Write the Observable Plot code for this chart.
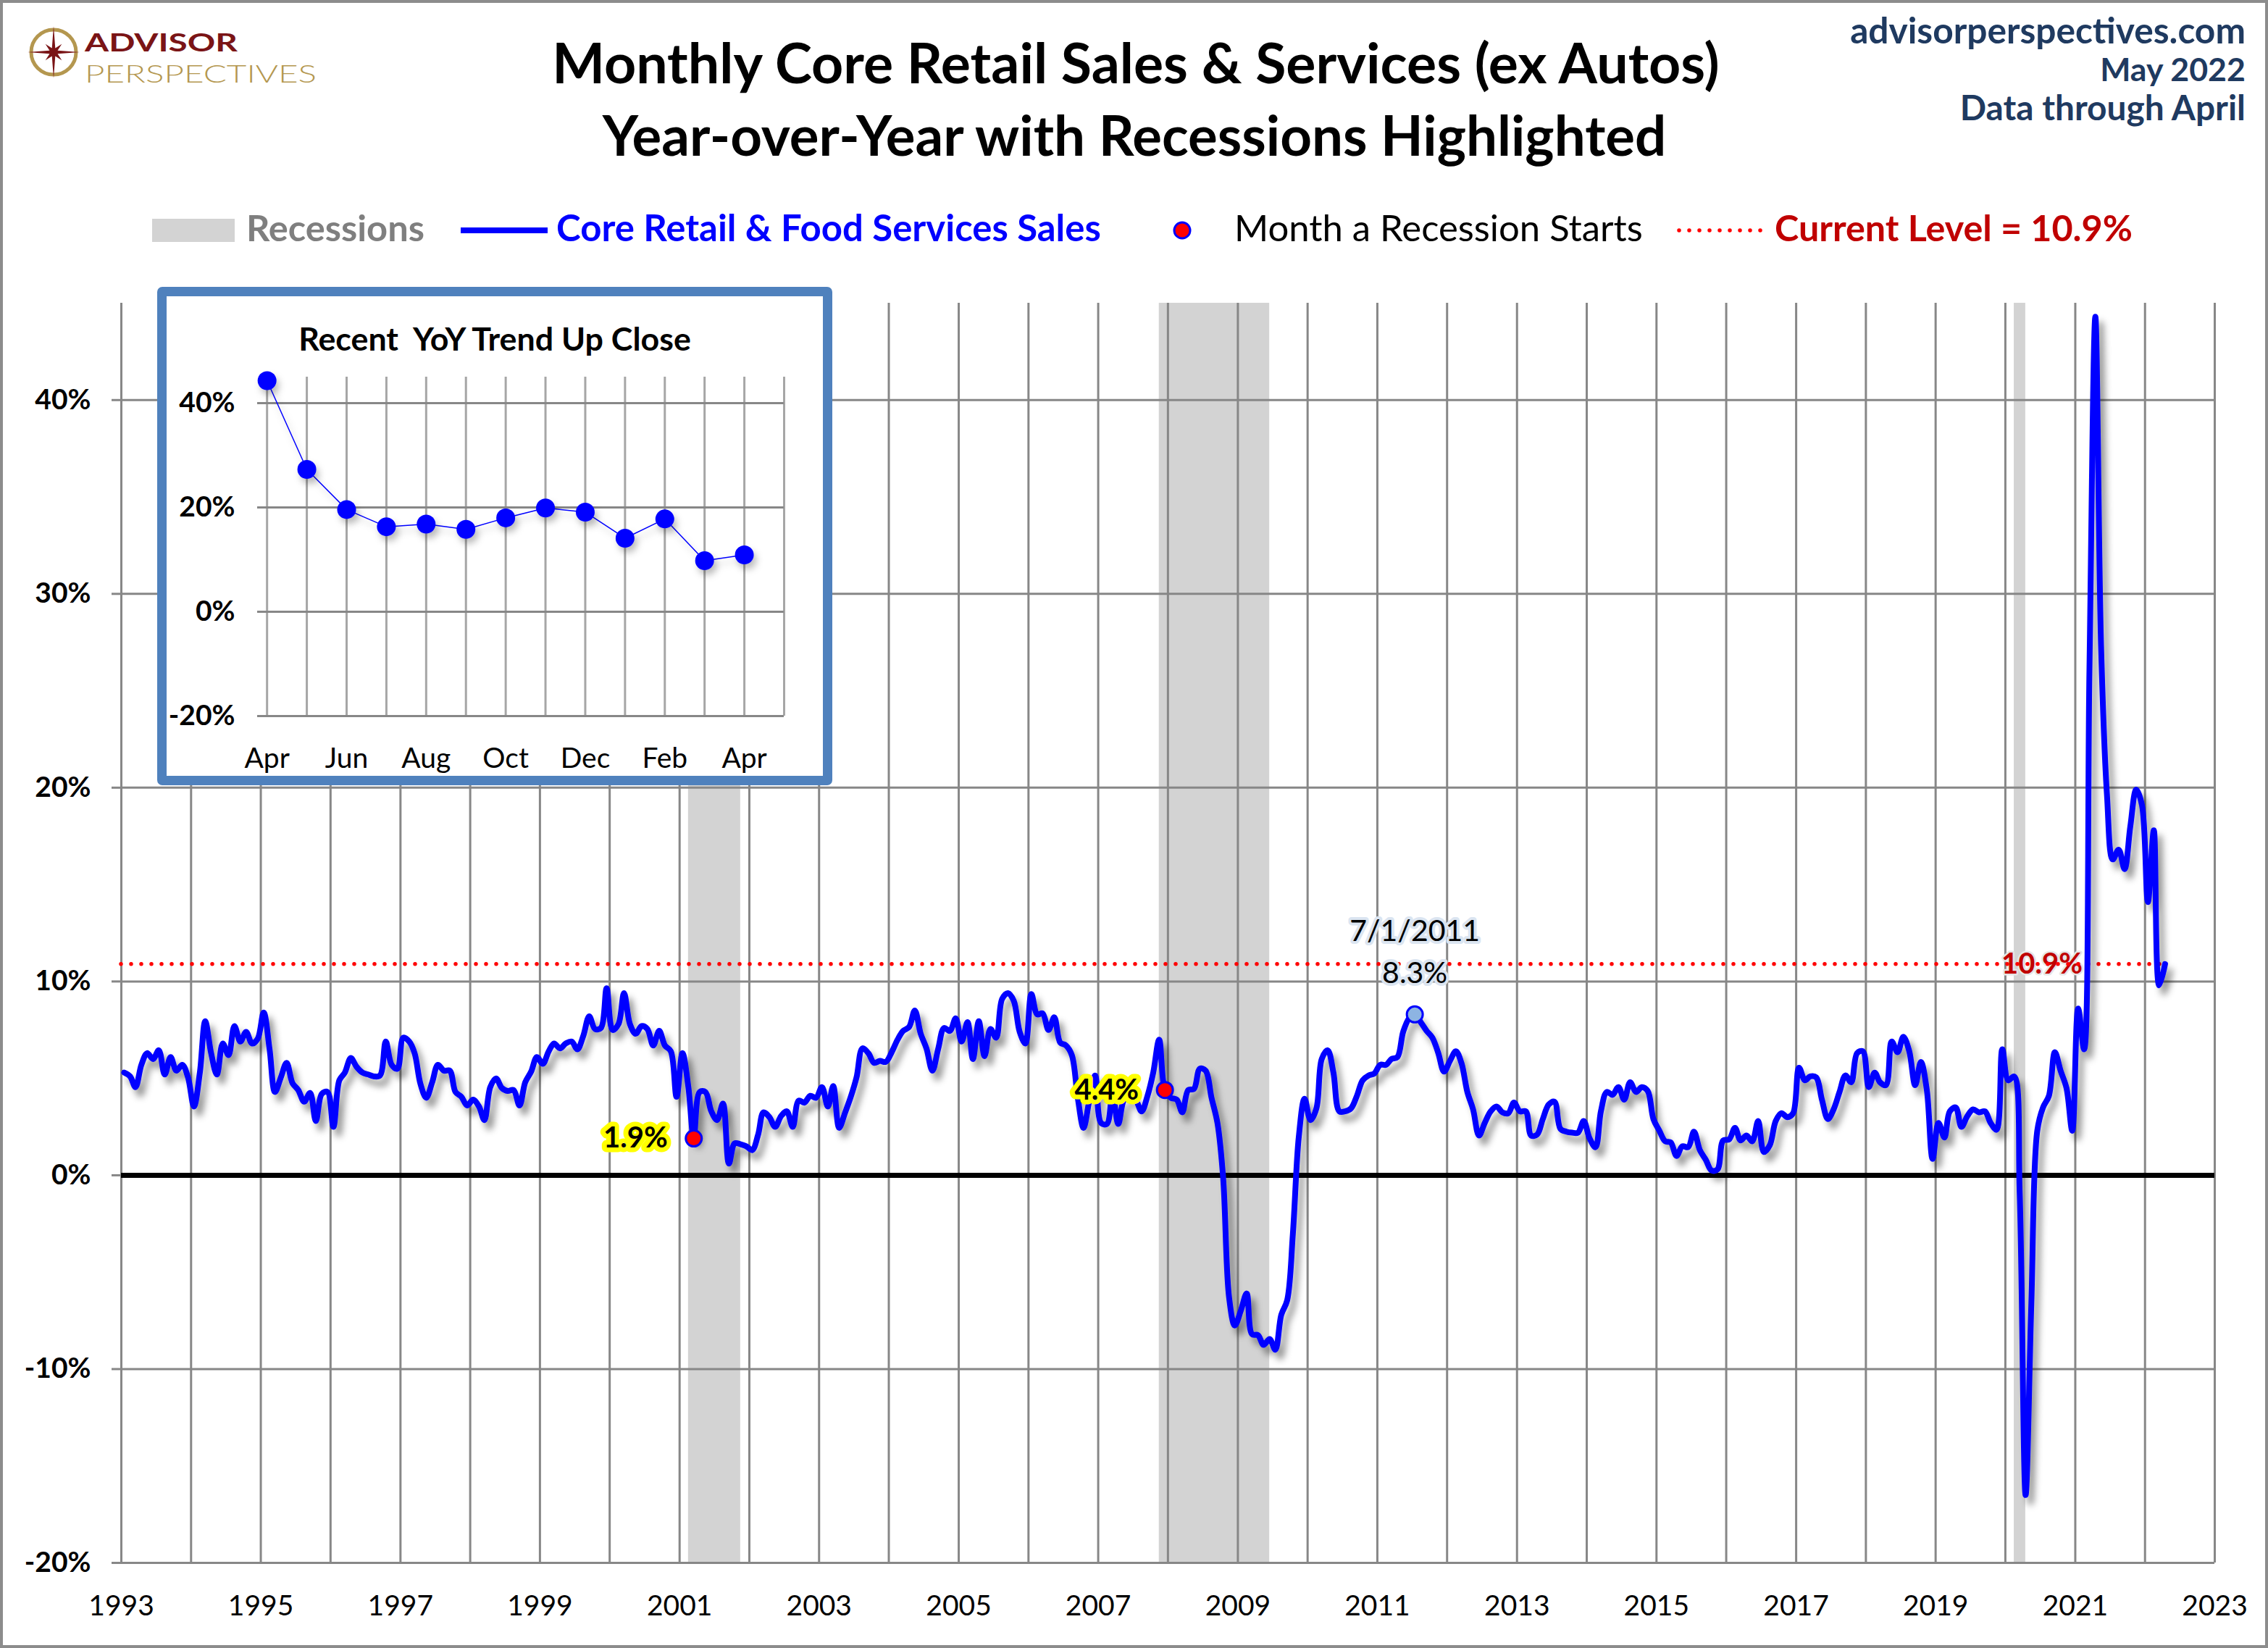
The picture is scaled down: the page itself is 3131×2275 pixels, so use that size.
<!DOCTYPE html>
<html><head><meta charset="utf-8">
<script src="https://cdn.jsdelivr.net/npm/d3@7"></script>
<script src="https://cdn.jsdelivr.net/npm/@observablehq/plot@0.6"></script>
<style>
html,body{margin:0;padding:0;background:#fff;}
#page{position:relative;width:3131px;height:2275px;overflow:hidden;background:#fff;}
.abs{position:absolute;}
</style></head><body><div id="page"></div>
<script>
// ---------------- DATA ----------------
const firstYear = 1993; // series starts January 1993, monthly
const yoy = [
  5.3, 5.1, 4.55, 5.7, 6.3, 6.0, 6.45, 5.2, 6.1, 5.4, 5.7, 5.05,
  3.55, 5.3, 7.95, 6.3, 5.2, 6.8, 6.2, 7.7, 6.9, 7.4, 6.8, 7.05,
  8.4, 6.5, 4.3, 5.05, 5.8, 4.75, 4.4, 3.8, 4.25, 2.8, 4.2, 4.3,
  2.5, 4.9, 5.3, 6.05, 5.6, 5.3, 5.2, 5.1, 5.15, 6.9, 5.7, 5.5,
  7.1, 6.9, 6.3, 4.7, 4.0, 4.8, 5.7, 5.4, 5.4, 4.3, 4.05, 3.6,
  3.9, 3.55, 2.85, 4.55, 5.0, 4.5, 4.35, 4.4, 3.6, 4.8, 5.35, 6.1,
  5.75, 6.4, 6.8, 6.55, 6.8, 6.9, 6.5, 7.2, 8.2, 7.55, 7.6, 9.65,
  7.5, 7.8, 9.4, 7.8, 7.3, 7.7, 7.55, 6.7, 7.45, 6.7, 6.4, 4.05,
  6.3, 4.55, 1.9, 4.3, 4.3, 3.3, 2.85, 3.7, 0.6, 1.65, 1.6, 1.5,
  1.3, 2.1, 3.25, 3.0, 2.5, 3.05, 3.3, 2.5, 3.85, 3.75, 4.1, 4.0,
  4.55, 3.55, 4.6, 2.45, 3.2, 4.05, 5.05, 6.55, 6.3, 5.8, 5.9, 5.85,
  6.35, 7.0, 7.45, 7.65, 8.5, 7.3, 6.55, 5.4, 6.55, 7.6, 7.45, 8.1,
  6.9, 7.9, 6.0, 7.95, 6.15, 7.55, 7.1, 9.1, 9.4, 9.0, 7.4, 6.8,
  9.35, 8.3, 8.35, 7.5, 8.15, 6.85, 6.7, 6.2, 4.0, 2.45, 3.9, 5.15,
  2.7, 2.65, 4.2, 2.65, 3.9, 4.1, 3.9, 3.3, 4.1, 5.3, 7.0, 4.4,
  4.0, 3.9, 3.25, 4.4, 4.45, 5.5, 5.4, 4.0, 2.7, -0.15, -6.3, -7.75,
  -7.0, -6.1, -8.2, -8.25, -8.75, -8.45, -9.0, -7.2, -6.45, -3.0, 2.0, 3.95,
  2.85, 3.45, 6.0, 6.45, 5.3, 3.3, 3.3, 3.45, 4.1, 4.9, 5.15, 5.25,
  5.7, 5.7, 6.0, 6.1, 7.4, 8.1, 8.3, 7.9, 7.45, 7.1, 6.3, 5.35,
  5.9, 6.4, 5.8, 4.3, 3.4, 2.05, 2.7, 3.3, 3.55, 3.25, 3.2, 3.75,
  3.3, 3.3, 2.05, 2.1, 2.9, 3.65, 3.8, 2.4, 2.25, 2.2, 2.2, 2.8,
  1.9, 1.45, 3.3, 4.3, 4.15, 4.55, 3.9, 4.8, 4.3, 4.55, 4.35, 2.9,
  2.3, 1.75, 1.7, 1.0, 1.5, 1.45, 2.25, 1.3, 0.8, 0.25, 0.3, 1.8,
  1.85, 2.45, 1.8, 2.05, 1.75, 2.8, 1.2, 1.55, 2.8, 3.2, 3.0, 3.2,
  5.55, 4.9, 5.1, 5.05, 3.9, 2.9, 3.4, 4.3, 5.15, 4.8, 6.3, 6.4,
  4.55, 5.3, 4.8, 4.65, 6.9, 6.35, 7.15, 6.4, 4.65, 5.85, 4.4, 0.85,
  2.7, 1.95, 3.3, 3.5, 2.5, 3.05, 3.4, 3.25, 3.3, 2.7, 2.35, 6.5,
  4.9, 5.1, -0.9, -16.5, -6.6, 2.3, 3.5, 4.1, 6.35, 5.4, 4.5, 2.3,
  8.6, 6.5, 26.0, 44.3, 27.3, 19.6, 16.3, 16.8, 15.8, 18.0, 19.9, 19.1,
  14.1, 17.8, 9.8, 10.9
];
const recessionBandStart = ["2001-02", "2007-11", "2020-02"];
const recessionBandEnd   = ["2001-11", "2009-06", "2020-04"];
const recessionStartMonths = ["2001-03", "2007-12"];
const highlightMonth = "2011-07";
const currentLevel = 10.9;
const yearGrid = d3.range(1993, 2024);
const yearLabels = d3.range(1993, 2024, 2);
const yTicks = [-20, -10, 0, 10, 20, 30, 40];
const insetCount = 13;
const insetYTicks = [-20, 0, 20, 40];
const titleLines = ["Monthly Core Retail Sales & Services (ex Autos)", "Year-over-Year with Recessions Highlighted"];
const sourceLines = ["advisorperspectives.com", "May 2022", "Data through April"];
const legendLabels = ["Recessions", "Core Retail & Food Services Sales", "Month a Recession Starts", "Current Level = 10.9%"];
const insetTitle = "Recent  YoY Trend Up Close";
const logoWords = ["ADVISOR", "PERSPECTIVES"];

// ---------------- HELPERS ----------------
const W = 3131, H = 2275;
const FONT = "Lato, 'Open Sans', sans-serif";
const monthDate = ym => { const [y, m] = ym.split("-").map(Number); return new Date(Date.UTC(y, m - 1, 16)); };
const series = yoy.map((v, i) => ({date: new Date(Date.UTC(firstYear, i, 16)), value: v}));
const byTime = new Map(series.map(d => [+d.date, d]));
const lastPoint = series[series.length - 1];
const bands = recessionBandStart.map((s, i) => ({start: monthDate(s), end: monthDate(recessionBandEnd[i])}));
const starts = recessionStartMonths.map(m => byTime.get(+monthDate(m)));
const highlight = byTime.get(+monthDate(highlightMonth));
const xStart = new Date(Date.UTC(1993, 0, 1)), xEnd = new Date(Date.UTC(2023, 0, 1));
const fmtYear = d3.utcFormat("%Y");
const fmtMon = d3.utcFormat("%b");

const page = document.getElementById("page");

function addShadow(svg, id, dx, dy, sd, op) {
  const s = d3.select(svg);
  const defs = s.insert("defs", ":first-child");
  defs.append("filter").attr("id", id).attr("x", "-10%").attr("y", "-10%").attr("width", "130%").attr("height", "130%")
    .append("feDropShadow").attr("dx", dx).attr("dy", dy).attr("stdDeviation", sd)
    .attr("flood-color", "#000").attr("flood-opacity", op);
}
function styleAxes(svg) {
  const s = d3.select(svg);
  s.selectAll('g[aria-label^="y-axis"] text').attr("font-weight", "bold");
  s.selectAll('g[aria-label^="y-axis"] line, g[aria-label^="y-axis"] path').attr("stroke", "#878787").attr("stroke-width", 3);
  s.selectAll('g[aria-label="text"]').style("paint-order", "stroke").attr("stroke-linejoin", "round");
}

// ---------------- MAIN PLOT ----------------
const main = Plot.plot({
  width: W, height: H,
  marginLeft: 167, marginRight: W - 3057, marginTop: 418, marginBottom: H - 2157,
  style: {fontFamily: FONT, fontSize: "39px", color: "black", background: "white", overflow: "visible"},
  x: {type: "utc", domain: [xStart, xEnd], ticks: yearLabels.map(y => new Date(Date.UTC(y, 0, 1))),
      tickFormat: fmtYear, tickSize: 0, tickPadding: 45, label: null},
  y: {domain: [-20, 45], ticks: yTicks, tickFormat: d => d + "%", tickSize: 13, tickPadding: 29, label: null},
  marks: [
    Plot.rect(bands, {x1: "start", x2: "end", fill: "#d3d3d3"}),
    Plot.ruleX(yearGrid.map(y => new Date(Date.UTC(y, 0, 1))), {stroke: "#878787", strokeWidth: 3}),
    Plot.ruleY(yTicks.filter(d => d !== 0), {stroke: "#878787", strokeWidth: 3}),
    Plot.ruleY([0], {stroke: "black", strokeWidth: 7}),
    Plot.text([currentLevel], {x: () => lastPoint.date, y: d => d, text: d => d.toFixed(1) + "%", textAnchor: "end", dx: -114,
      fill: "#c00000", fontWeight: "bold", fontSize: 40, stroke: "#e6e6e6", strokeWidth: 5}),
    Plot.ruleY([currentLevel], {x1: () => xStart, x2: () => lastPoint.date, stroke: "#ff0000", strokeWidth: 5.5,
      strokeDasharray: "0 14", strokeLinecap: "round"}),
    Plot.line(series, {x: "date", y: "value", stroke: "#0000ff", strokeWidth: 8, curve: "catmull-rom", strokeLinejoin: "round"}),
    Plot.dot(starts, {x: "date", y: "value", r: 11, fill: "#ff0000", stroke: "#0000ff", strokeWidth: 3}),
    Plot.dot([highlight], {x: "date", y: "value", r: 11, fill: "#8db4e2", stroke: "#0000ff", strokeWidth: 3}),
    Plot.text(starts, {x: "date", y: "value", text: d => d.value.toFixed(1) + "%", textAnchor: "end", dx: -36,
      fontWeight: "bold", fontSize: 40, fill: "black", stroke: "#ffff00", strokeWidth: 13}),
    Plot.text([highlight], {x: "date", y: "value", text: d => `${d.date.getUTCMonth() + 1}/1/${d.date.getUTCFullYear()}`,
      dy: -114, fontSize: 41, fill: "black", stroke: "#dbe5f1", strokeWidth: 8}),
    Plot.text([highlight], {x: "date", y: "value", text: d => d.value.toFixed(1) + "%",
      dy: -56, fontSize: 41, fill: "black", stroke: "#dbe5f1", strokeWidth: 8})
  ]
});
addShadow(main, "lineShadow", 7, 10, 5, 0.4);
d3.select(main).selectAll('g[aria-label="line"]').attr("filter", "url(#lineShadow)");
styleAxes(main);
d3.select(main).attr("class", (d3.select(main).attr("class") || "") + " abs").style("left", "0px").style("top", "0px").style("max-width", "none");
page.appendChild(main);

// ---------------- INSET ----------------
const insetData = series.slice(-insetCount).map((d, i) => ({i, value: d.value, label: fmtMon(d.date)}));
const box = document.createElement("div");
box.className = "abs";
Object.assign(box.style, {left: "217px", top: "396px", width: "932px", height: "688px", boxSizing: "border-box",
  border: "13px solid #4f81bd", borderRadius: "7px", background: "white"});
page.appendChild(box);

const inset = Plot.plot({
  width: 906, height: 662,
  marginLeft: 125, marginRight: 54, marginTop: 111, marginBottom: 83,
  style: {fontFamily: FONT, fontSize: "39px", color: "black", background: "white", overflow: "visible"},
  x: {domain: [-0.24, 13], ticks: d3.range(0, insetCount, 2), tickFormat: i => insetData[i].label, tickSize: 0, tickPadding: 44, label: null},
  y: {domain: [-20, 45], ticks: insetYTicks, tickFormat: d => d + "%", tickSize: 0, tickPadding: 31, label: null},
  marks: [
    Plot.ruleX(d3.range(0, insetCount + 1), {stroke: "#a6a6a6", strokeWidth: 3}),
    Plot.ruleY(insetYTicks, {stroke: "#878787", strokeWidth: 3}),
    Plot.line(insetData, {x: "i", y: "value", stroke: "#0000ff", strokeWidth: 1.5}),
    Plot.dot(insetData, {x: "i", y: "value", r: 13, fill: "#0000ff"})
  ]
});
addShadow(inset, "insetShadow", 4, 7, 5, 0.25);
d3.select(inset).selectAll('g[aria-label="line"], g[aria-label="dot"]').attr("filter", "url(#insetShadow)");
styleAxes(inset);
d3.select(inset).attr("class", (d3.select(inset).attr("class") || "") + " abs").style("left", "230px").style("top", "409px").style("max-width", "none");
page.appendChild(inset);

// ---------------- HEADER / LEGEND OVERLAY ----------------
const ctx = document.createElement("canvas").getContext("2d");
function fit(s, weight, target) { ctx.font = `${weight} 100px Lato`; return 100 * target / ctx.measureText(s).width; }
const ov = d3.create("svg").attr("width", W).attr("height", H).attr("class", "abs").style("left", "0px").style("top", "0px");
function txt(s, x, y, o) {
  const weight = o.weight || "normal";
  const size = o.target ? fit(s, weight, o.target) : o.size;
  return ov.append("text").attr("x", x).attr("y", y).attr("font-family", FONT).attr("font-size", size)
    .attr("font-weight", weight).attr("fill", o.fill || "black").attr("text-anchor", o.anchor || "start").text(s);
}
// outer border
ov.append("rect").attr("x", 2).attr("y", 2).attr("width", W - 4).attr("height", H - 4).attr("fill", "none").attr("stroke", "#8c8c8c").attr("stroke-width", 4);

// logo
const lc = [74, 72];
ov.append("circle").attr("cx", lc[0]).attr("cy", lc[1]).attr("r", 31).attr("fill", "none").attr("stroke", "#b4974f").attr("stroke-width", 5);
const starPts = d3.range(16).map(k => {
  const a = -Math.PI / 2 + k * Math.PI / 8;
  const r = k % 2 ? 6 : (k % 4 === 0 ? 36 : 16);
  return [lc[0] + r * Math.cos(a), lc[1] + r * Math.sin(a)];
});
ov.append("path").attr("d", d3.line()(starPts) + "Z").attr("fill", "#7a1416");
ov.append("text").attr("x", 117).attr("y", 71).attr("font-family", FONT).attr("font-size", 35).attr("font-weight", "bold")
  .attr("fill", "#7a1416").attr("textLength", 211).attr("lengthAdjust", "spacingAndGlyphs").text(logoWords[0]);
ov.append("text").attr("x", 117).attr("y", 114).attr("font-family", FONT).attr("font-size", 33).attr("font-weight", 300)
  .attr("fill", "#b4974f").attr("textLength", 320).attr("lengthAdjust", "spacingAndGlyphs").text(logoWords[1]);

// titles
txt(titleLines[0], 1568, 115, {weight: "bold", anchor: "middle", target: 1616});
txt(titleLines[1], 1566, 215, {weight: "bold", anchor: "middle", target: 1472});

// source
txt(sourceLines[0], 3100, 60, {weight: "bold", anchor: "end", fill: "#1f3a60", target: 546});
txt(sourceLines[1], 3100, 112, {weight: "bold", anchor: "end", fill: "#1f3a60", target: 202});
txt(sourceLines[2], 3100, 166, {weight: "bold", anchor: "end", fill: "#1f3a60", target: 396});

// legend
const ly = 318, lb = 333;
ov.append("rect").attr("x", 210).attr("y", 302).attr("width", 114).attr("height", 32).attr("fill", "#d3d3d3");
txt(legendLabels[0], 340, lb, {weight: "bold", fill: "#7f7f7f", target: 246});
ov.append("line").attr("x1", 636).attr("x2", 756).attr("y1", ly).attr("y2", ly).attr("stroke", "#0000ff").attr("stroke-width", 8);
txt(legendLabels[1], 768, lb, {weight: "bold", fill: "#0000ff", target: 752});
ov.append("circle").attr("cx", 1632).attr("cy", ly).attr("r", 11).attr("fill", "#ff0000").attr("stroke", "#0000ff").attr("stroke-width", 3);
txt(legendLabels[2], 1704, lb, {weight: "normal", fill: "black", target: 564});
ov.append("line").attr("x1", 2318).attr("x2", 2436).attr("y1", ly).attr("y2", ly).attr("stroke", "#ff0000").attr("stroke-width", 5.5)
  .attr("stroke-dasharray", "0 14").attr("stroke-linecap", "round");
txt(legendLabels[3], 2450, lb, {weight: "bold", fill: "#c00000", target: 494});

// inset title
txt(insetTitle, 683, 484, {weight: "bold", anchor: "middle", target: 547}).style("white-space", "pre");

page.appendChild(ov.node());
</script></body></html>
